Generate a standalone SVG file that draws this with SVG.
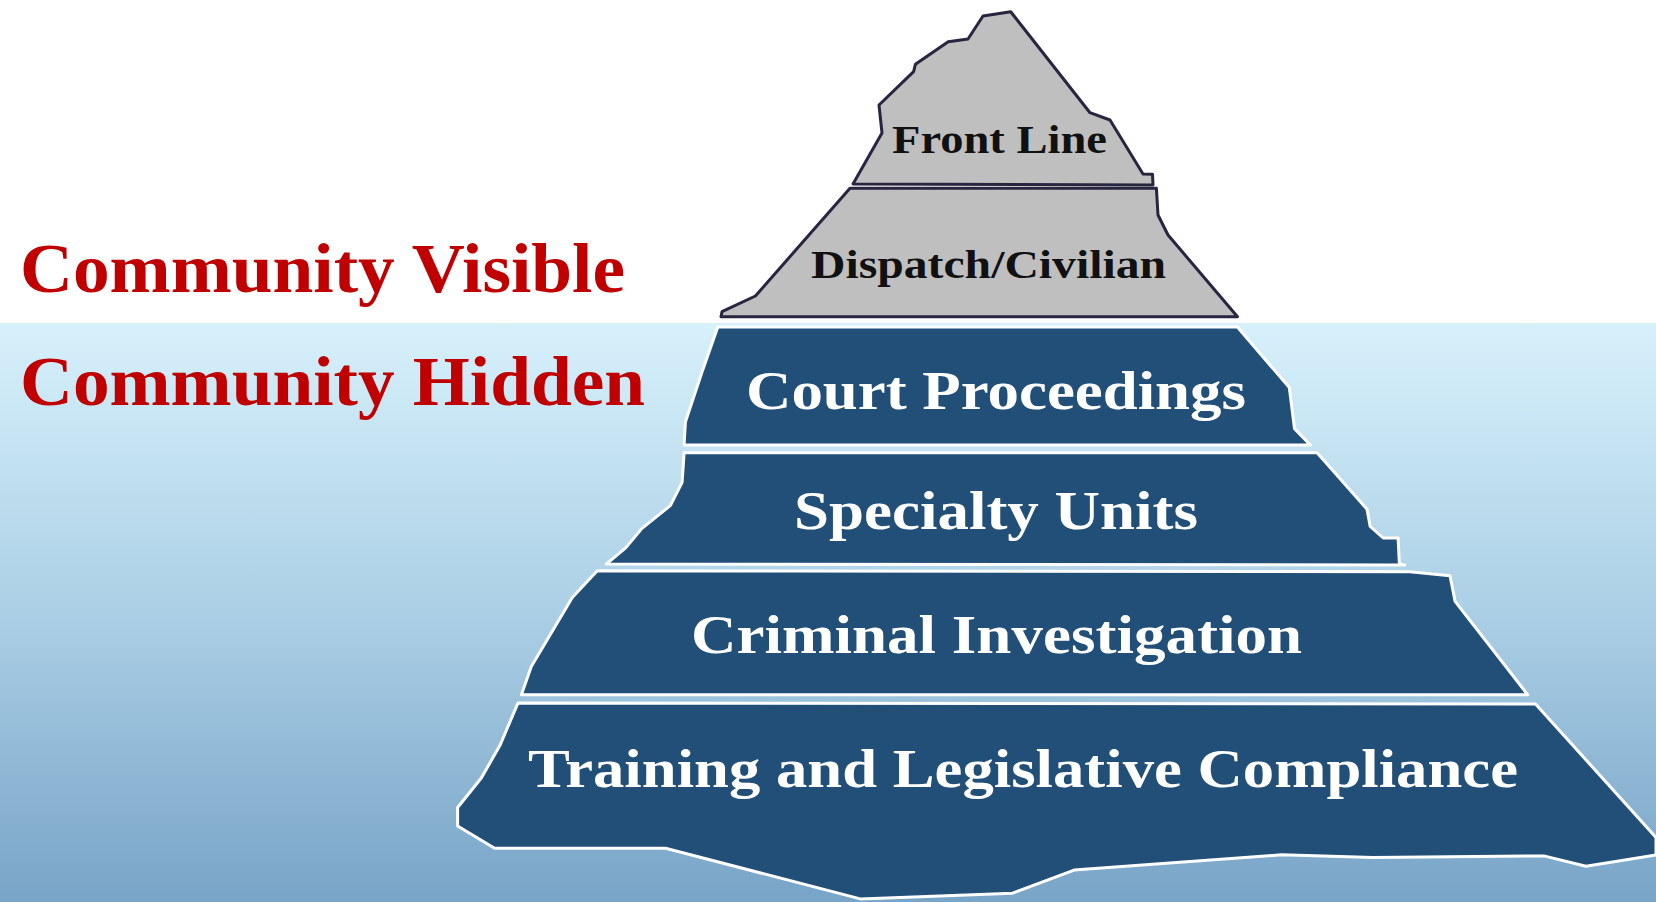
<svg xmlns="http://www.w3.org/2000/svg" width="1656" height="902" viewBox="0 0 1656 902">
<defs>
<linearGradient id="sea" x1="0" y1="0" x2="0" y2="1">
<stop offset="0" stop-color="#D7F1FB"/>
<stop offset="0.5" stop-color="#ABCFE5"/>
<stop offset="1" stop-color="#78A4C7"/>
</linearGradient>
</defs>
<style>
.above{fill:#BFBFBF;stroke:#27253F;stroke-width:3;stroke-linejoin:round}
.below{fill:#214F78;stroke:#FFFFFF;stroke-width:3;stroke-linejoin:round}
.side{font-family:"Liberation Serif","Times New Roman",serif;font-weight:bold;font-size:70px;fill:#C00000}
.dark{font-family:"Liberation Serif","Times New Roman",serif;font-weight:bold;font-size:41px;fill:#111111;text-anchor:start}
.light{font-family:"Liberation Serif","Times New Roman",serif;font-weight:bold;font-size:55px;fill:#FFFFFF;text-anchor:start}
</style>
<rect x="0" y="0" width="1656" height="323" fill="#FFFFFF"/>
<rect x="0" y="323" width="1656" height="579" fill="url(#sea)"/>

<g id="label-visible"><text class="side" x="20" y="292" textLength="605" lengthAdjust="spacingAndGlyphs">Community Visible</text></g>
<g id="label-hidden"><text class="side" x="20" y="405" textLength="625" lengthAdjust="spacingAndGlyphs">Community Hidden</text></g>

<g id="front-line">
<polygon class="above" points="853,184 882,133 879,105 913.6,71.7 915.4,64.3 948.2,41.7 968,39 983,16 1010.7,11.7 1090,112.7 1110,120 1143,174 1152.5,174.3 1153,185"/>
<text class="dark" x="892" y="153" textLength="215" lengthAdjust="spacingAndGlyphs">Front Line</text>
</g>

<g id="dispatch-civilian">
<polygon class="above" points="850,188.3 1156.4,188.3 1158,215 1168,235 1237.5,316.7 721,316.7 722,311.7 755.4,296"/>
<text class="dark" x="811" y="278" textLength="355" lengthAdjust="spacingAndGlyphs">Dispatch/Civilian</text>
</g>

<g id="court-proceedings">
<polygon class="below" points="717.8,327 1237.4,327 1289.3,387.5 1294.5,428.6 1310.6,445.1 684.1,445.1 685.4,422 702,372"/>
<text class="light" x="746" y="409" textLength="500" lengthAdjust="spacingAndGlyphs">Court Proceedings</text>
</g>

<g id="specialty-units">
<polygon class="below" points="684.1,452.8 1317.1,452.8 1367,509.2 1370.2,526.5 1383.2,538 1398.1,538 1399.4,564.1 1404.6,564.9 606.3,564.1 625.9,547.6 642,528.4 670.5,505.4 682.1,482.4"/>
<text class="light" x="794" y="529" textLength="404" lengthAdjust="spacingAndGlyphs">Specialty Units</text>
</g>

<g id="criminal-investigation">
<polygon class="below" points="597.3,570.7 1409.8,571.8 1450,575.7 1455.1,601.4 1527.7,694.7 521.4,694.7 531.3,666.6 572.3,597.5"/>
<text class="light" x="691" y="653" textLength="611" lengthAdjust="spacingAndGlyphs">Criminal Investigation</text>
</g>

<g id="training-compliance">
<polygon class="below" points="517.9,703.1 1535.5,703.9 1656,837.5 1656,855 1586,866.3 1543.9,855.9 1373,857.6 1281.5,854.8 1074.1,870.1 1012.6,893.2 860.3,898.9 665.5,848.2 494.6,848.2 457.6,826 457.6,807.5 481.3,778 500,745.3"/>
<text class="light" x="528" y="787" textLength="990" lengthAdjust="spacingAndGlyphs">Training and Legislative Compliance</text>
</g>

<g id="connectors"></g>
</svg>
